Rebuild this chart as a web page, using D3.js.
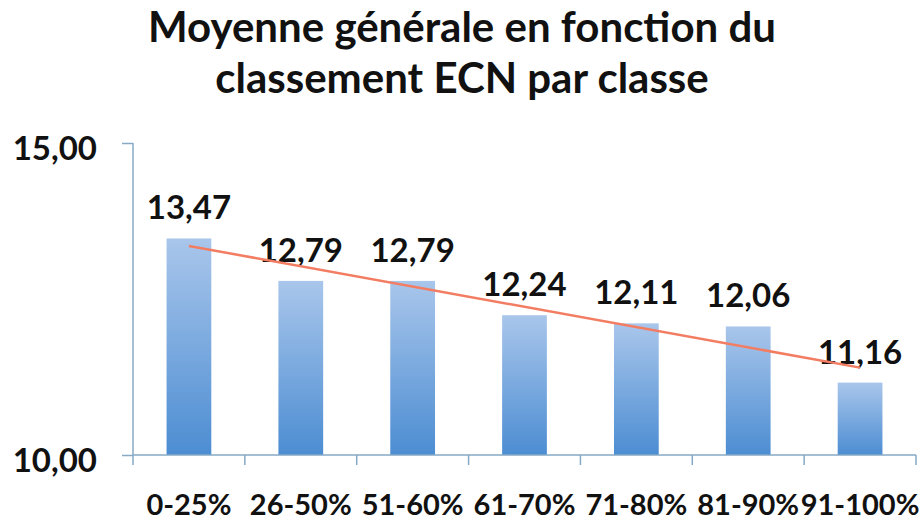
<!DOCTYPE html>
<html>
<head>
<meta charset="utf-8">
<script src="https://cdn.jsdelivr.net/npm/d3@7"></script>
<style>
  body { margin: 0; background: white; }
  text { font-family: Lato, "Liberation Sans", sans-serif; font-weight: bold; fill: #111; }
</style>
</head>
<body>
<div id="chart"></div>
<script>
var width = 922;
var height = 524;
var margin = { top: 143, right: 6, bottom: 69, left: 133 };

var titleLines = ["Moyenne générale en fonction du", "classement ECN par classe"];
var categories = ["0-25%", "26-50%", "51-60%", "61-70%", "71-80%", "81-90%", "91-100%"];
var values = [13.47, 12.79, 12.79, 12.24, 12.11, 12.06, 11.16];
var yTicks = [10, 15];
// trend line, at first and last class
var trendCats = ["0-25%", "91-100%"];
var trendValues = [13.35, 11.40];

var fmt = d => d3.format(".2f")(d).replace(".", ",");

//Create svg element
var svg = d3.select("#chart")
  .append("svg")
  .attr("width", width)
  .attr("height", height);

var defs = svg.append("defs");
var grad = defs.append("linearGradient")
  .attr("id", "barGrad")
  .attr("x1", 0).attr("y1", 0)
  .attr("x2", 0).attr("y2", 1);
grad.append("stop").attr("offset", "0%").attr("stop-color", "#a9c6eb");
grad.append("stop").attr("offset", "100%").attr("stop-color", "#4c8dd2");

// Add X scale
var xScale = d3.scaleBand()
  .domain(categories)
  .range([margin.left, width - margin.right])
  .paddingInner(0.6)
  .paddingOuter(0.3);

// Add Y scale
var yScale = d3.scaleLinear()
  .domain([10, 15])
  .range([height - margin.bottom, margin.top]);

// Title
svg.append("g")
  .attr("class", "title")
  .selectAll("text")
  .data(titleLines)
  .enter()
  .append("text")
  .attr("x", 462)
  .attr("y", (d, i) => 42 + i * 51)
  .attr("text-anchor", "middle")
  .style("font-size", "42px")
  .text(d => d);

// Render bars
svg.append("g")
  .attr("class", "bars")
  .selectAll("rect")
  .data(values)
  .enter()
  .append("rect")
  .attr("x", (d, i) => xScale(categories[i]))
  .attr("y", d => yScale(d))
  .attr("width", xScale.bandwidth())
  .attr("height", d => yScale(10) - yScale(d))
  .attr("fill", "url(#barGrad)");

// Render Y axis
var yAxis = d3.axisLeft(yScale)
  .tickValues(yTicks)
  .tickSize(11)
  .tickPadding(25)
  .tickFormat(fmt);

var yAxisG = svg.append("g")
  .attr("transform", `translate(${margin.left},0)`)
  .attr("class", "y-axis")
  .call(yAxis);
yAxisG.select(".domain").remove();
yAxisG.selectAll("line").attr("stroke", "#86a9c6").attr("stroke-width", 1.5);
yAxisG.selectAll("text")
  .attr("dy", "0.5em")
  .style("font-size", "33px")
  .style("font-family", "Lato, 'Liberation Sans', sans-serif")
  .style("fill", "#111");

svg.append("line")
  .attr("x1", margin.left).attr("x2", margin.left)
  .attr("y1", yScale(15)).attr("y2", yScale(10) + 10)
  .attr("stroke", "#86a9c6")
  .attr("stroke-width", 1.5);

// Render X axis
svg.append("line")
  .attr("x1", margin.left).attr("x2", width - margin.right)
  .attr("y1", yScale(10)).attr("y2", yScale(10))
  .attr("stroke", "#86a9c6")
  .attr("stroke-width", 1.5);

var step = xScale.step();
svg.append("g")
  .attr("class", "x-ticks")
  .selectAll("line")
  .data(categories)
  .enter()
  .append("line")
  .attr("x1", d => xScale(d) + xScale.bandwidth() / 2 + step / 2)
  .attr("x2", d => xScale(d) + xScale.bandwidth() / 2 + step / 2)
  .attr("y1", yScale(10))
  .attr("y2", yScale(10) + 10)
  .attr("stroke", "#86a9c6")
  .attr("stroke-width", 1.5);

svg.append("g")
  .attr("class", "x-labels")
  .selectAll("text")
  .data(categories)
  .enter()
  .append("text")
  .attr("x", d => xScale(d) + xScale.bandwidth() / 2)
  .attr("y", 515)
  .attr("text-anchor", "middle")
  .style("font-size", "29px")
  .text(d => d);

// Value labels
svg.append("g")
  .attr("class", "values")
  .selectAll("text")
  .data(values)
  .enter()
  .append("text")
  .attr("x", (d, i) => xScale(categories[i]) + xScale.bandwidth() / 2)
  .attr("y", d => yScale(d) - 19)
  .attr("text-anchor", "middle")
  .style("font-size", "33px")
  .text(d => fmt(d));

// Trend line
var trend = d3.line()
  .x((d, i) => xScale(trendCats[i]) + xScale.bandwidth() / 2)
  .y(d => yScale(d));

svg.append("path")
  .datum(trendValues)
  .attr("d", trend)
  .attr("fill", "none")
  .attr("stroke", "#f27d62")
  .attr("stroke-width", 2.5);
</script>
</body>
</html>
